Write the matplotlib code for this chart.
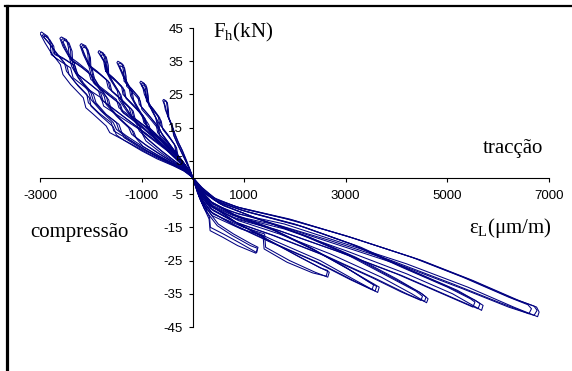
import matplotlib
matplotlib.use("Agg")
import matplotlib.pyplot as plt
from matplotlib.lines import Line2D
import numpy as np

plt.rcParams['mathtext.fontset'] = 'custom'
plt.rcParams['mathtext.rm'] = 'Liberation Serif'

# hysteresis half-loops: strain (um/m), force (kN)
# compression side (negative strain, positive force): loading then unloading
c1_a = [(0, 0), (-80, 3), (-190, 6.5), (-300, 10), (-380, 13), (-400, 15), (-480, 18), (-540, 20.5), (-560, 22), (-590, 23.2),
        (-570, 23.5), (-520, 23), (-500, 21), (-490, 18.5), (-420, 16), (-380, 14), (-300, 11), (-220, 8.5), (-140, 5.5), (-60, 2.5), (0, 0)]
c1_b = [(0, 0), (-90, 3.3), (-200, 7), (-310, 10.5), (-370, 12.5), (-390, 14.5), (-460, 17.5), (-520, 20), (-540, 21.5), (-570, 22.8),
        (-550, 23.1), (-500, 22.6), (-480, 20.5), (-470, 18), (-400, 15.5), (-360, 13.5), (-280, 10.5), (-200, 8), (-120, 5), (-50, 2.2), (0, 0)]
c2_a = [(0, 0), (-110, 3), (-260, 6), (-430, 9.5), (-600, 13), (-700, 16), (-730, 18), (-860, 22), (-950, 25), (-980, 27), (-1040, 28.6),
        (-1020, 29), (-950, 28.3), (-920, 26), (-910, 23), (-800, 21), (-680, 18.5), (-650, 16), (-500, 13), (-360, 10), (-330, 7.5), (-180, 4.5), (0, 0)]
c2_b = [(0, 0), (-120, 3.2), (-280, 6.3), (-450, 10), (-620, 13.5), (-680, 15.5), (-710, 17.5), (-830, 21.5), (-920, 24.5), (-950, 26.5), (-1010, 28.1),
        (-990, 28.5), (-920, 27.8), (-890, 25.5), (-880, 22.5), (-770, 20.5), (-650, 18), (-620, 15.5), (-470, 12.5), (-340, 9.5), (-310, 7), (-160, 4), (0, 0)]
c2_c = [(0, 0), (-100, 2.6), (-240, 5.5), (-400, 8.8), (-560, 12), (-650, 14.2), (-670, 16.5), (-800, 20), (-900, 23.5), (-930, 25.8), (-1000, 27.5),
        (-975, 27.9), (-905, 27.2), (-875, 24.5), (-860, 21.5), (-740, 19.5), (-620, 17), (-590, 14.5), (-450, 11.8), (-320, 9), (-290, 6.5), (-150, 3.6), (0, 0)]
c3_a = [(0, 0), (-130, 2.8), (-300, 5.2), (-520, 8.5), (-750, 12), (-900, 15), (-940, 17), (-1100, 21), (-1220, 24.5), (-1250, 27), (-1370, 30.5), (-1440, 33), (-1490, 34.6),
        (-1470, 35), (-1390, 34.3), (-1360, 32), (-1350, 29), (-1220, 27), (-1080, 24.5), (-1050, 22), (-880, 19), (-720, 16), (-690, 13.5), (-500, 10.5), (-320, 7), (-150, 3.5), (0, 0)]
c3_b = [(0, 0), (-140, 3), (-320, 5.5), (-550, 9), (-780, 12.5), (-870, 14.5), (-910, 16.5), (-1070, 20.5), (-1190, 24), (-1220, 26.5), (-1340, 30), (-1410, 32.5), (-1460, 34.1),
        (-1440, 34.5), (-1360, 33.8), (-1330, 31.5), (-1320, 28.5), (-1190, 26.5), (-1050, 24), (-1020, 21.5), (-850, 18.5), (-690, 15.5), (-660, 13), (-470, 10), (-300, 6.7), (-140, 3.3), (0, 0)]
c3_c = [(0, 0), (-120, 2.6), (-290, 5), (-500, 8.2), (-720, 11.5), (-820, 13.5), (-860, 15.8), (-1030, 19.8), (-1160, 23.3), (-1190, 25.8), (-1310, 29.2), (-1390, 31.8), (-1440, 33.2),
        (-1420, 33.6), (-1340, 33), (-1310, 30.5), (-1300, 27.5), (-1170, 25.5), (-1030, 23), (-1000, 20.5), (-830, 17.5), (-670, 14.5), (-640, 12), (-450, 9.3), (-280, 6.2), (-130, 3), (0, 0)]
c4_a = [(0, 0), (-140, 2.5), (-320, 4.5), (-580, 7.5), (-850, 11), (-1050, 14), (-1100, 16), (-1300, 20), (-1450, 23.5), (-1480, 26), (-1620, 29.5), (-1720, 32.5), (-1750, 35), (-1820, 36.8), (-1860, 37.7),
        (-1840, 38.2), (-1760, 37.5), (-1720, 35), (-1710, 32), (-1560, 30), (-1400, 27.5), (-1370, 25), (-1180, 22), (-1000, 19), (-960, 16.5), (-750, 13.5), (-550, 10.5), (-350, 7.5), (-170, 4), (0, 0)]
c4_b = [(0, 0), (-150, 2.7), (-340, 4.8), (-610, 8), (-880, 11.5), (-1000, 13.5), (-1050, 15.5), (-1250, 19.5), (-1400, 23), (-1440, 25.5), (-1580, 29), (-1690, 32), (-1720, 34.5), (-1790, 36.3), (-1830, 37.2),
        (-1810, 37.7), (-1730, 37), (-1690, 34.5), (-1680, 31.5), (-1530, 29.5), (-1370, 27), (-1340, 24.5), (-1150, 21.5), (-970, 18.5), (-930, 16), (-720, 13), (-520, 10), (-330, 7), (-160, 3.8), (0, 0)]
c4_c = [(0, 0), (-160, 2.6), (-360, 4.6), (-640, 7.6), (-920, 11), (-980, 12.8), (-1020, 14.8), (-1220, 18.8), (-1370, 22.3), (-1410, 24.8), (-1550, 28.2), (-1660, 31.2), (-1690, 33.7), (-1760, 35.6), (-1800, 36.5),
        (-1780, 37), (-1700, 36.3), (-1660, 33.8), (-1650, 30.8), (-1500, 28.8), (-1340, 26.3), (-1310, 23.8), (-1120, 20.8), (-940, 17.8), (-900, 15.3), (-690, 12.3), (-500, 9.4), (-310, 6.5), (-150, 3.5), (0, 0)]
c5_a = [(0, 0), (-150, 2.2), (-330, 4), (-600, 6.5), (-900, 9.5), (-1200, 13), (-1260, 15), (-1500, 18.5), (-1700, 22), (-1740, 24.5), (-1900, 28), (-2000, 31), (-2040, 33.5), (-2150, 37), (-2215, 39.8),
        (-2190, 40.3), (-2100, 39.6), (-2060, 37), (-2050, 34), (-1880, 32), (-1700, 29.5), (-1660, 27), (-1450, 24), (-1250, 21), (-1200, 18.5), (-950, 15.5), (-700, 12), (-450, 8.5), (-220, 5), (0, 0)]
c5_b = [(0, 0), (-160, 2.5), (-350, 4.3), (-640, 7), (-940, 10), (-1150, 12.5), (-1200, 14.5), (-1450, 18), (-1650, 21.5), (-1690, 24), (-1850, 27.5), (-1960, 30.5), (-2000, 33), (-2120, 36.5), (-2190, 39.3),
        (-2160, 39.8), (-2080, 39), (-2030, 36.5), (-2020, 33.5), (-1850, 31.5), (-1660, 29), (-1620, 26.5), (-1400, 23.5), (-1200, 20.5), (-1160, 18), (-900, 15), (-650, 11.5), (-420, 8), (-200, 4.5), (0, 0)]
c5_c = [(0, 0), (-170, 2.3), (-370, 4), (-680, 6.6), (-980, 9.4), (-1110, 11.8), (-1160, 13.8), (-1410, 17.3), (-1610, 20.8), (-1650, 23.3), (-1810, 26.8), (-1930, 29.8), (-1970, 32.3), (-2090, 35.8), (-2170, 38.8),
        (-2140, 39.3), (-2060, 38.5), (-2010, 36), (-2000, 33), (-1820, 31), (-1630, 28.5), (-1590, 26), (-1370, 23), (-1170, 20), (-1130, 17.5), (-870, 14.5), (-620, 11), (-400, 7.6), (-190, 4.2), (0, 0)]
c6_a = [(0, 0), (-150, 2), (-330, 3.5), (-620, 5.8), (-900, 8), (-1250, 11.5), (-1500, 14.5), (-1560, 16.5), (-1800, 20), (-2000, 23.5), (-2050, 26), (-2250, 30), (-2380, 33.5), (-2420, 36), (-2550, 39.5), (-2610, 41.9),
        (-2580, 42.3), (-2480, 41.5), (-2440, 39), (-2430, 36.5), (-2250, 34.5), (-2050, 32), (-2000, 29.5), (-1750, 26.5), (-1500, 23.5), (-1450, 21), (-1150, 17.5), (-850, 13.5), (-550, 9.5), (-280, 5.5), (0, 0)]
c6_b = [(0, 0), (-170, 2.3), (-360, 4), (-660, 6.5), (-950, 9), (-1300, 12.5), (-1450, 14.2), (-1500, 16.5), (-1750, 19.5), (-1950, 23), (-2000, 25.5), (-2200, 29), (-2330, 32.5), (-2370, 35), (-2500, 38.5), (-2580, 41.4),
        (-2550, 41.8), (-2460, 41), (-2400, 38.5), (-2390, 35.5), (-2200, 33.5), (-2000, 31), (-1950, 28.5), (-1700, 25.5), (-1450, 22.5), (-1400, 20), (-1100, 16.5), (-800, 12.5), (-500, 8.5), (-250, 4.5), (0, 0)]
c6_c = [(0, 0), (-180, 2.2), (-390, 3.8), (-700, 6.2), (-1000, 8.6), (-1350, 12), (-1400, 13.8), (-1450, 16), (-1700, 19), (-1900, 22.5), (-1950, 25), (-2150, 28.5), (-2290, 32), (-2330, 34.5), (-2460, 38), (-2550, 40.9),
        (-2520, 41.3), (-2430, 40.5), (-2370, 38), (-2360, 35), (-2170, 33), (-1970, 30.5), (-1920, 28), (-1670, 25), (-1420, 22), (-1370, 19.5), (-1070, 16), (-770, 12), (-480, 8), (-240, 4.2), (0, 0)]
c7_a = [(0, 0), (-150, 1.8), (-320, 3.2), (-600, 5.2), (-850, 7), (-1200, 10), (-1630, 13.5), (-1700, 15.5), (-1950, 19), (-2100, 21), (-2150, 24), (-2400, 28), (-2550, 31), (-2600, 34), (-2800, 38), (-2900, 40.5), (-3000, 43.4),
        (-2970, 43.8), (-2850, 42.5), (-2800, 40.5), (-2780, 37), (-2600, 35), (-2400, 33), (-2350, 30), (-2100, 27), (-1800, 24), (-1750, 21.5), (-1450, 18.5), (-1100, 15), (-800, 11.5), (-500, 8), (-250, 4.5), (0, 0)]
c7_b = [(0, 0), (-160, 2.2), (-350, 3.8), (-650, 6), (-950, 8.5), (-1300, 11.8), (-1550, 14), (-1600, 16.5), (-1850, 19.5), (-2050, 22.5), (-2080, 25), (-2300, 28.5), (-2480, 32), (-2520, 34.5), (-2700, 38), (-2850, 41), (-2960, 42.8),
        (-2930, 43), (-2840, 42), (-2760, 40), (-2740, 37.5), (-2550, 36), (-2350, 34), (-2300, 31.5), (-2050, 28.5), (-1850, 26), (-1800, 23.5), (-1500, 20), (-1200, 16.5), (-900, 13), (-600, 9.5), (-300, 5.5), (0, 0)]
c7_c = [(0, 0), (-180, 2), (-380, 3.5), (-700, 5.6), (-1000, 8), (-1350, 11.2), (-1500, 12.8), (-1560, 15.2), (-1800, 18.5), (-2000, 21.5), (-2030, 24), (-2250, 27.5), (-2430, 31), (-2470, 33.5), (-2660, 37), (-2820, 40.3), (-2930, 42.3),
        (-2900, 42.6), (-2810, 41.5), (-2730, 39.5), (-2710, 37), (-2510, 35.5), (-2310, 33.5), (-2260, 31), (-2010, 28), (-1810, 25.5), (-1760, 23), (-1460, 19.5), (-1160, 16), (-860, 12.5), (-560, 9), (-280, 5), (0, 0)]

# tension side (positive strain, negative force): loading then unloading
t1_a = [(0, 0), (60, -2.5), (150, -6), (330, -12), (345, -15), (600, -17), (900, -19.5), (1255, -22.6),
        (1280, -21), (1150, -20), (800, -17), (500, -14), (250, -9), (100, -4), (0, 0)]
t1_b = [(0, 0), (60, -2.8), (140, -6.5), (320, -12.5), (340, -16), (590, -18), (880, -20.5), (1240, -22.8),
        (1270, -21.3), (1130, -20.5), (780, -17.5), (480, -14.5), (230, -9.5), (90, -4.5), (0, 0)]
t2_a = [(0, 0), (60, -2.7), (150, -6), (400, -11), (1000, -15), (1410, -17), (1430, -21), (1900, -25), (2400, -28.5), (2650, -30),
        (2680, -28.5), (2550, -27.5), (2100, -24), (1500, -19), (900, -14), (400, -9), (150, -4.5), (0, 0)]
t2_b = [(0, 0), (50, -2.5), (130, -6), (380, -11.5), (950, -15.5), (1380, -17.5), (1400, -21.5), (1850, -25.5), (2350, -28.7), (2620, -29.7),
        (2650, -28), (2500, -27.2), (2050, -23.5), (1450, -18.5), (850, -13.5), (380, -8.5), (140, -4), (0, 0)]
t3_a = [(0, 0), (60, -2.5), (150, -5.5), (400, -10), (900, -14), (1600, -19), (2500, -25), (3200, -31), (3630, -34.6),
        (3660, -33), (3550, -32), (3100, -28), (2400, -22), (1600, -16), (900, -12), (400, -8), (150, -4), (0, 0)]
t3_b = [(0, 0), (50, -2.4), (130, -5.5), (370, -10.5), (850, -14.5), (1550, -19.5), (2450, -25.5), (3150, -31), (3580, -34.2),
        (3610, -32.8), (3500, -31.8), (3050, -27.5), (2350, -21.5), (1550, -15.5), (850, -11.5), (380, -7.5), (140, -3.5), (0, 0)]
t3_c = [(0, 0), (50, -2.3), (120, -5.3), (350, -10.3), (800, -14.3), (1500, -19.3), (2400, -25.3), (3100, -30.8), (3520, -33.8),
        (3550, -32.3), (3440, -31.3), (3000, -27), (2300, -21), (1500, -15), (800, -11), (350, -7.2), (130, -3.3), (0, 0)]
t4_a = [(0, 0), (60, -2.3), (150, -5), (400, -9), (900, -13), (1700, -17), (2700, -23), (3700, -30), (4300, -35), (4590, -37.7),
        (4620, -36.5), (4500, -35), (4000, -30.5), (3200, -24), (2300, -18), (1300, -12.5), (600, -8.5), (250, -5), (0, 0)]
t4_b = [(0, 0), (50, -2.2), (130, -5), (370, -9.5), (850, -13.5), (1600, -17.5), (2600, -23.5), (3600, -30.5), (4200, -35), (4550, -37.3),
        (4580, -36), (4450, -34.5), (3900, -30), (3100, -23.5), (2200, -17.5), (1200, -12), (550, -8), (220, -4.5), (0, 0)]
t4_c = [(0, 0), (50, -2.1), (120, -4.8), (350, -9.3), (800, -13.3), (1550, -17.3), (2500, -23), (3500, -30), (4100, -34.5), (4480, -37),
        (4510, -35.7), (4380, -34.2), (3800, -29.5), (3000, -23), (2100, -17), (1150, -11.7), (520, -7.8), (200, -4.2), (0, 0)]
t5_a = [(0, 0), (60, -2), (150, -4.5), (400, -8.5), (900, -12), (1800, -15.5), (3000, -22), (4200, -29), (5100, -35), (5670, -40),
        (5700, -38.5), (5600, -37.5), (5200, -34), (4300, -28), (3300, -21), (2200, -15), (1100, -10.5), (500, -7.5), (200, -4), (0, 0)]
t5_b = [(0, 0), (50, -2), (130, -4.5), (380, -9), (850, -12.5), (1700, -16), (2900, -22.5), (4100, -29.5), (5000, -35.5), (5600, -39.5),
        (5640, -38), (5550, -37), (5100, -33.5), (4200, -27.5), (3200, -20.5), (2100, -14.5), (1000, -10), (450, -7), (180, -3.5), (0, 0)]
t5_c = [(0, 0), (50, -1.9), (110, -4), (330, -8.5), (800, -12), (1600, -15.5), (2800, -22), (4000, -29), (4900, -35), (5500, -39),
        (5540, -37.5), (5450, -36.5), (5000, -33), (4100, -27), (3100, -20), (2000, -14), (950, -9.8), (420, -6.8), (160, -3.3), (0, 0)]
t6_a = [(0, 0), (60, -1.8), (150, -4), (400, -8), (900, -11), (1800, -14), (3000, -20), (4200, -26), (5400, -33), (6300, -39), (6770, -41.9),
        (6800, -40.5), (6750, -39), (6400, -37), (5500, -31), (4500, -25), (3200, -18.5), (2000, -13), (1000, -9.5), (500, -7), (200, -3.5), (0, 0)]
t6_b = [(0, 0), (50, -1.8), (120, -4), (350, -8.5), (800, -11.5), (1700, -14.5), (2900, -20.5), (4100, -26.5), (5300, -33.5), (6200, -39), (6700, -41.5),
        (6760, -40), (6700, -38.7), (6300, -36.5), (5400, -30.5), (4400, -24.5), (3100, -18), (1900, -12.5), (900, -9), (450, -6.5), (180, -3), (0, 0)]
t6_c = [(0, 0), (40, -1.4), (100, -3), (300, -7), (700, -10), (1500, -13.5), (2700, -19), (3900, -25), (5100, -32), (6000, -37.5), (6600, -41),
        (6650, -39.5), (6580, -38.3), (6200, -36), (5300, -30), (4300, -24), (3000, -17.5), (1800, -12.3), (850, -8.8), (400, -6), (150, -2.7), (0, 0)]

loops = [c1_a, c1_b, c2_a, c2_b, c2_c, c3_a, c3_b, c3_c, c4_a, c4_b, c4_c,
         c5_a, c5_b, c5_c, c6_a, c6_b, c6_c, c7_a, c7_b, c7_c,
         t1_a, t1_b, t2_a, t2_b, t3_a, t3_b, t3_c, t4_a, t4_b, t4_c, t5_a, t5_b, t5_c, t6_a, t6_b, t6_c]

x_ticks = [-3000, -1000, 1000, 3000, 5000, 7000]
y_ticks = [-45, -35, -25, -15, -5, 5, 15, 25, 35, 45]

W, H = 572, 371
fig = plt.figure(figsize=(W / 100, H / 100), dpi=100)
ax = fig.add_axes([40 / W, 1 - 327 / H, 509.3 / W, 299 / H])

for lp in loops:
    arr = np.array(lp)
    ax.plot(arr[:, 0], arr[:, 1], color='#000080', lw=0.75)

ax.set_xlim(-3000, 7000)
ax.set_ylim(-45, 45)
ax.spines['left'].set_position(('data', 0))
ax.spines['bottom'].set_position(('data', 0))
ax.spines['top'].set_visible(False)
ax.spines['right'].set_visible(False)
for s in ('left', 'bottom'):
    ax.spines[s].set_linewidth(0.8)
ax.set_xticks(x_ticks)
ax.set_yticks(y_ticks)
ax.set_xticklabels([str(v) for v in x_ticks])
ax.set_yticklabels([str(v) for v in y_ticks])
ax.tick_params(axis='x', direction='out', length=3, width=0.8, pad=6,
               labelsize=9.5, labelfontfamily='Liberation Sans')
ax.tick_params(axis='y', direction='out', length=3, width=0.8, pad=4,
               labelsize=9.5, labelfontfamily='Liberation Sans')
# tick labels sit on top of the curves, as in the original
ax.xaxis.set_zorder(3)
ax.yaxis.set_zorder(3)

serif = dict(family='Liberation Serif', fontsize=15)
fig.text(213 / W, 1 - 32 / H, r'F$_\mathrm{h}$(kN)', ha='left', va='center', **serif)
fig.text(543 / W, 1 - 148 / H, 'tracção', ha='right', va='center', **serif)
fig.text(469 / W, 1 - 228 / H, r'ε$_\mathrm{L}$(μm/m)', ha='left', va='center', **serif)
fig.text(30 / W, 1 - 233 / H, 'compressão', ha='left', va='center', **serif)

# frame lines at the left and top of the picture
fig.add_artist(Line2D([6.5 / W, 6.5 / W], [0, 1 - 5.5 / H], color='black', lw=2.3))
fig.add_artist(Line2D([5 / W, 1], [1 - 6 / H, 1 - 6 / H], color='black', lw=1.6))

fig.savefig('out.png', dpi=100)
